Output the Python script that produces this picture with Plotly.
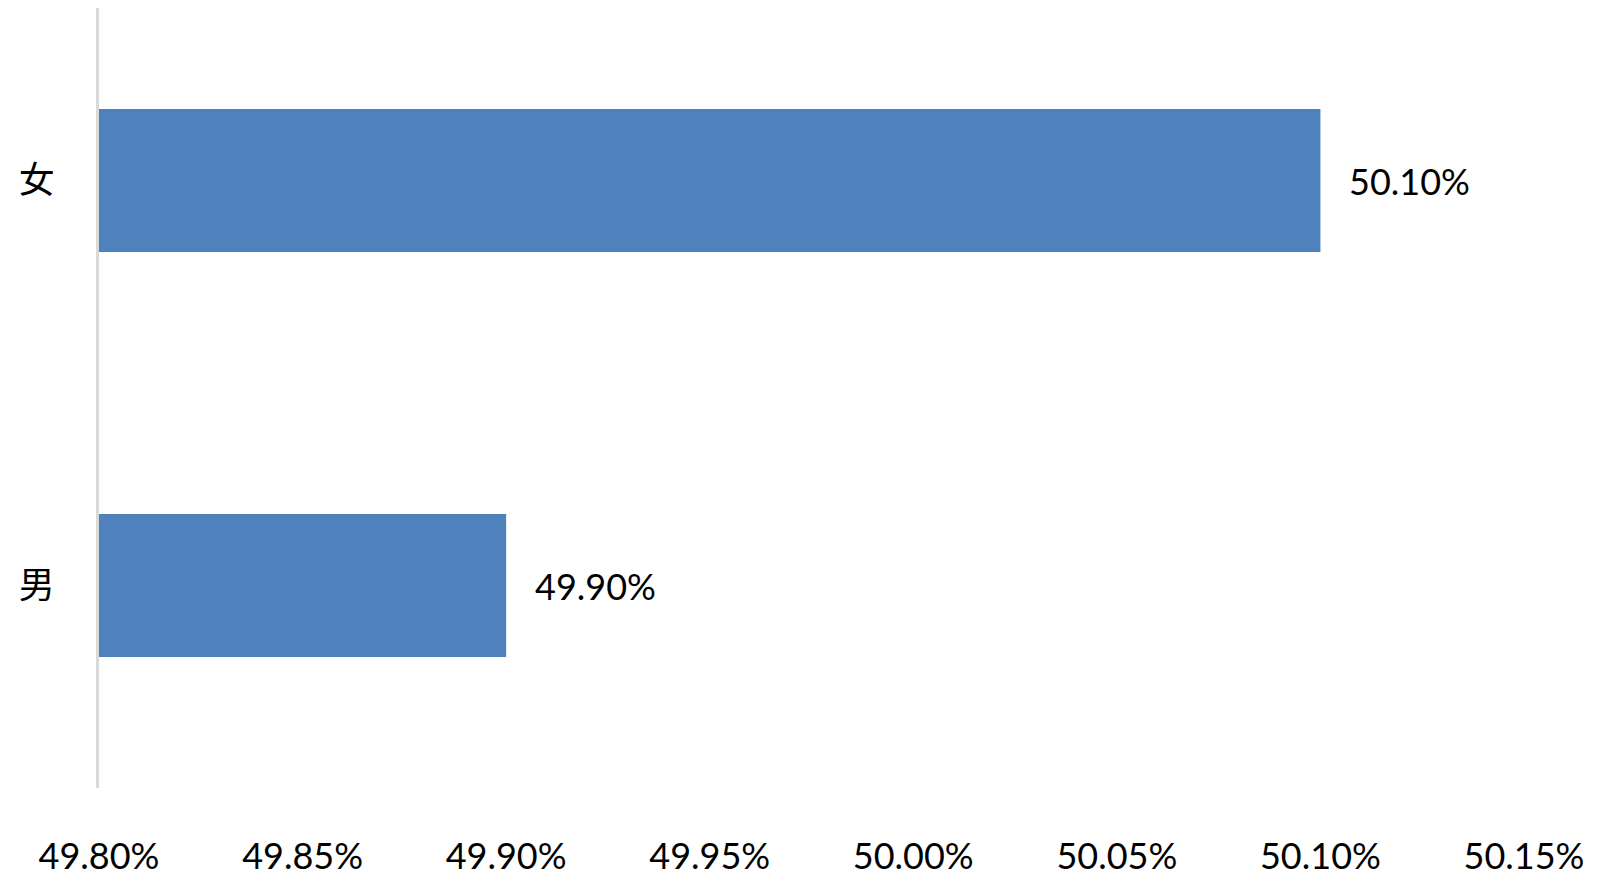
import plotly.graph_objects as go

# 性别比例
genders = ["男", "女"]
shares = [0.4990, 0.5010]
tick_vals = [0.4980, 0.4985, 0.4990, 0.4995, 0.5000, 0.5005, 0.5010, 0.5015]

bar_color = "#4F81BD"
num_font = dict(family="Lato, 'Open Sans', sans-serif", size=36, color="#000000")

fig = go.Figure()
fig.add_trace(go.Bar(
    x=shares,
    y=genders,
    orientation="h",
    width=0.353,
    marker=dict(color=bar_color, line=dict(width=0)),
    hoverinfo="skip",
))

# 数据标签
for g, v in zip(genders, shares):
    fig.add_annotation(
        x=v, y=g, text=f"{v * 100:.2f}%",
        showarrow=False, xanchor="left", xshift=27, yshift=0,
        font=num_font,
    )

# page body has an 8px margin, so the figure is a bit smaller than the window
fig.update_layout(
    width=1592, height=885,
    margin=dict(l=91, r=76, t=0, b=105),
    paper_bgcolor="white", plot_bgcolor="white",
    showlegend=False,
)
fig.update_xaxes(
    range=[0.4980, 0.5015],
    tickvals=tick_vals,
    tickformat=".2%",
    showgrid=False, zeroline=False, showline=False,
    ticks="", ticklabelstandoff=44,
    tickfont=num_font,
)
fig.update_yaxes(
    range=[-0.5, 1.5 - 30 / 405],
    showgrid=False, zeroline=False,
    showline=True, linecolor="#D9D9D9", linewidth=3,
    ticks="", ticklabelstandoff=34,
    tickfont=dict(family="'Noto Sans CJK SC', sans-serif", size=36, color="#000000"),
)

fig.write_html("out.html")
